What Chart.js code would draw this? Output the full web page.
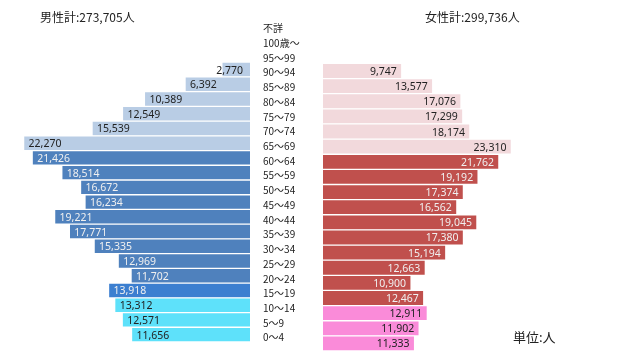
<!DOCTYPE html>
<html lang="ja">
<head>
<meta charset="utf-8">
<script src="https://cdn.jsdelivr.net/npm/chart.js@4"></script>
<style>
  html, body { margin: 0; padding: 0; background: #fff; }
  #wrap { position: relative; width: 620px; height: 359px; overflow: hidden; font-family: "Noto Sans CJK JP", sans-serif; color: #222; }
  #wrapLeft { position: absolute; left: 0; top: 0; width: 300px; height: 359px; }
  #wrapRight { position: absolute; left: 320px; top: 0; width: 300px; height: 359px; }
  .titulo { position: absolute; font-size: 12px; line-height: 14px; white-space: nowrap; }
</style>
</head>
<body>
<div id="wrap">
  <div id="wrapLeft"><canvas id="graficoHomens"></canvas></div>
  <div id="wrapRight"><canvas id="graficoMulheres"></canvas></div>
  <div class="titulo" id="totalHomens" style="left:40px; top:10px;"></div>
  <div class="titulo" id="totalMulheres" style="left:425px; top:10px;"></div>
  <div class="titulo" style="left:513px; top:330px; font-size:13px;">単位:人</div>
</div>
<script>
// Faixas etárias, de cima para baixo
const faixas = ['不詳', '100歳～', '95～99', '90～94', '85～89', '80～84', '75～79', '70～74',
    '65～69', '60～64', '55～59', '50～54', '45～49', '40～44', '35～39', '30～34',
    '25～29', '20～24', '15～19', '10～14', '5～9', '0～4'];

const homens = [null, null, null, 2770, 6392, 10389, 12549, 15539, 22270, 21426, 18514,
    16672, 16234, 19221, 17771, 15335, 12969, 11702, 13918, 13312, 12571, 11656];

const mulheres = [null, null, null, 9747, 13577, 17076, 17299, 18174, 23310, 21762, 19192,
    17374, 16562, 19045, 17380, 15194, 12663, 10900, 12467, 12911, 11902, 11333];

const totalHomens = 273705;
const totalMulheres = 299736;

const EIXO_MAX = 24000;

// Cores por grupo: 65+ / 15-64 / 15-19 / 0-14
const corHomem = (i) => {
    if (i <= 8) return '#b9cde5';
    if (i === 18) return '#3c7fd0';
    if (i >= 19) return '#5ee1fa';
    return '#4f81bd';
};
const corMulher = (i) => {
    if (i <= 8) return '#f2d9dc';
    if (i >= 19) return '#fa8bd9';
    return '#c0504d';
};
const corTexto = (i) => (i <= 8 || i >= 19) ? '#222' : '#f0f0f0';

const fmt = (v) => v.toLocaleString('en-US');

document.getElementById('totalHomens').textContent = `男性計:${fmt(totalHomens)}人`;
document.getElementById('totalMulheres').textContent = `女性計:${fmt(totalMulheres)}人`;

// Rótulos de valor dentro das barras
const rotulosBarras = {
    id: 'rotulosBarras',
    afterDatasetsDraw(chart, args, opts) {
        const { ctx } = chart;
        const meta = chart.getDatasetMeta(0);
        const dados = chart.data.datasets[0].data;
        ctx.save();
        ctx.font = '10.5px "Noto Sans", sans-serif';
        ctx.textBaseline = 'middle';
        meta.data.forEach((barra, i) => {
            const v = dados[i];
            if (v == null) return;
            const texto = fmt(v);
            const largura = ctx.measureText(texto).width;
            ctx.fillStyle = corTexto(i);
            if (opts.lado === 'esquerda') {
                const tamanho = barra.base - barra.x;
                if (largura + 12 > tamanho) {
                    ctx.textAlign = 'right';
                    ctx.fillText(texto, barra.base - 7, barra.y + 1);
                } else {
                    ctx.textAlign = 'left';
                    ctx.fillText(texto, barra.x + 5, barra.y + 1);
                }
            } else {
                ctx.textAlign = 'right';
                ctx.fillText(texto, barra.x - 5, barra.y + 1);
            }
        });
        ctx.restore();
    }
};

const opcoesBase = (lado) => ({
    indexAxis: 'y',
    responsive: true,
    maintainAspectRatio: false,
    animation: false,
    layout: {
        padding: lado === 'esquerda'
            ? { left: 6, right: 0, top: 18, bottom: 8 }
            : { left: 3, right: 53, top: 18, bottom: 8 }
    },
    plugins: {
        legend: { display: false },
        tooltip: { enabled: false },
        rotulosBarras: { lado }
    },
    scales: {
        x: {
            display: false,
            min: 0,
            max: EIXO_MAX,
            reverse: lado === 'esquerda'
        },
        y: {
            display: lado === 'esquerda',
            position: 'right',
            grid: { display: false },
            border: { display: false },
            afterFit: (escala) => { escala.width = 50; },
            ticks: {
                align: 'start',
                padding: 5,
                labelOffset: -2,
                color: '#222',
                font: { family: '"Noto Sans CJK JP", sans-serif', size: 10 }
            }
        }
    }
});

new Chart(document.getElementById('graficoHomens').getContext('2d'), {
    type: 'bar',
    data: {
        labels: faixas,
        datasets: [{
            data: homens,
            backgroundColor: faixas.map((_, i) => corHomem(i)),
            borderColor: 'rgba(255,255,255,0.85)',
            borderWidth: 1,
            barPercentage: 1,
            categoryPercentage: 1
        }]
    },
    options: opcoesBase('esquerda'),
    plugins: [rotulosBarras]
});

new Chart(document.getElementById('graficoMulheres').getContext('2d'), {
    type: 'bar',
    data: {
        labels: faixas,
        datasets: [{
            data: mulheres,
            backgroundColor: faixas.map((_, i) => corMulher(i)),
            borderColor: 'rgba(255,255,255,0.85)',
            borderWidth: 1,
            barPercentage: 1,
            categoryPercentage: 1
        }]
    },
    options: opcoesBase('direita'),
    plugins: [rotulosBarras]
});
</script>
</body>
</html>
